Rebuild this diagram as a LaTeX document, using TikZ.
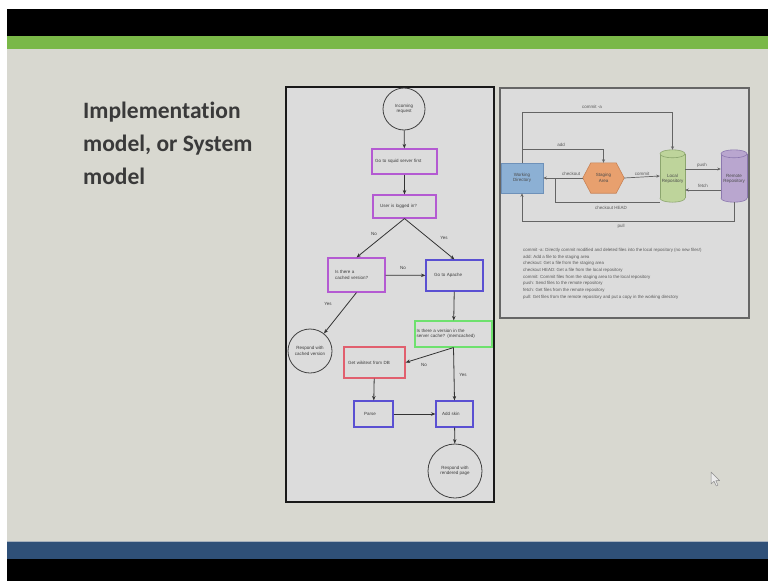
\documentclass[tikz,border=0pt]{standalone}
\usepackage{fontspec}
\setmainfont{Liberation Sans}
\newfontfamily\titlefont[Ligatures=NoCommon]{Carlito}
\usetikzlibrary{arrows.meta,calc}

\definecolor{slidebg}{RGB}{216,216,208}
\definecolor{topgreen}{RGB}{122,184,72}
\definecolor{botblue}{RGB}{47,80,120}
\definecolor{panelfill}{RGB}{220,220,220}
\definecolor{titlegray}{RGB}{58,58,58}
\definecolor{txt}{RGB}{60,60,60}
\definecolor{cmagenta}{RGB}{180,90,210}
\definecolor{cblue}{RGB}{90,80,210}
\definecolor{cgreen}{RGB}{110,225,110}
\definecolor{cred}{RGB}{225,95,110}
\definecolor{wdfill}{RGB}{140,176,212}
\definecolor{wdline}{RGB}{110,145,185}
\definecolor{safill}{RGB}{232,160,110}
\definecolor{saline}{RGB}{200,130,85}
\definecolor{lrfill}{RGB}{190,212,155}
\definecolor{lrline}{RGB}{140,165,110}
\definecolor{rrfill}{RGB}{185,166,207}
\definecolor{rrline}{RGB}{140,120,175}
\definecolor{gline}{RGB}{100,100,100}

\tikzset{
  tiny/.style={font=\fontsize{4.5}{5.4}\selectfont, text=txt},
  fbox/.style={tiny, draw, line width=1.1pt, align=left, inner ysep=0pt},
  fcirc/.style={tiny, draw=black!75, line width=0.8pt, circle, align=center, inner sep=0pt},
  farrow/.style={draw=black!80, line width=0.8pt, -{Stealth[length=4.5pt,width=3.5pt]}},
  flabel/.style={tiny, inner sep=0pt},
  gtext/.style={tiny, align=center, inner sep=0pt, text=black!70},
  garrow/.style={draw=gline, line width=0.7pt, -{Stealth[length=3.5pt,width=3pt]}},
  gline/.style={draw=gline, line width=0.7pt},
  glabel/.style={tiny, inner sep=0pt, text=black!65},
  titleline/.style={anchor=base west, inner sep=0pt, text=titlegray,
    font=\titlefont\bfseries\fontsize{23.5}{30}\selectfont},
}

\begin{document}
\begin{tikzpicture}[x=1pt,y=-1pt]
\useasboundingbox (0,0) rectangle (768,581);

% slide frame and bars
\fill[white] (0,0) rectangle (768,581);
\fill[black] (7,9) rectangle (768,36);
\fill[topgreen] (7,36) rectangle (768,49);
\fill[slidebg] (7,49) rectangle (768,541);
\fill[black!25!botblue!40!white] (7,540.5) rectangle (768,541.5);
\fill[botblue] (7,541.5) rectangle (768,559);
\fill[black] (7,559) rectangle (768,581);

% title
\node[titleline] (title1) at (83,118) {Implementation};
\node[titleline] (title2) at (83,151) {model, or System};
\node[titleline] (title3) at (83,184) {model};

% ---------------- request flowchart ----------------
\draw[line width=2pt, draw=black!90, fill=panelfill] (286,87) rectangle (494,502);

\node[fcirc, minimum size=42pt] (inc) at (404,109) {Incoming\\request};
\node[fbox, draw=cmagenta, inner xsep=3pt, text width=59pt, minimum height=25pt] (squid) at (404.5,161.5) {Go to squid server first};
\node[fbox, draw=cmagenta, inner xsep=7pt, text width=49pt, minimum height=23pt] (logged) at (404.5,206.5) {User is logged in?};
\node[fbox, draw=cmagenta, inner xsep=7pt, text width=43pt, minimum height=34pt] (cached) at (356.5,275) {Is there a\\cached version?};
\node[fbox, draw=cblue, inner xsep=8pt, text width=41pt, minimum height=31pt] (apache) at (454.5,275.5) {Go to Apache};
\node[fcirc, minimum size=44pt] (respc) at (310,351) {Respond with\\cached version};
\node[fbox, draw=cgreen, inner xsep=1.5pt, text width=74pt, minimum height=26pt] (memc) at (453.5,334) {Is there a version in the\\server cache? (memcached)};
\node[fbox, draw=cred, inner xsep=4pt, text width=53pt, minimum height=31pt] (wiki) at (374.5,362.5) {Get wikitext from DB};
\node[fbox, draw=cblue, inner xsep=10pt, text width=19pt, minimum height=26pt] (parse) at (373.5,414) {Parse};
\node[fbox, draw=cblue, inner xsep=6pt, text width=25pt, minimum height=26pt] (skin) at (454.5,414) {Add skin};
\node[fcirc, minimum size=54pt] (respr) at (455,471) {Respond with\\rendered page};

\draw[farrow] (inc) -- (squid);
\draw[farrow] (squid) -- (logged);
\draw[farrow] (logged.south) -- (cached.north);
\draw[farrow] (logged.south) -- (apache.north);
\draw[farrow] (cached) -- (apache);
\draw[farrow] (cached.south) -- (respc);
\draw[farrow] (apache) -- (memc);
\draw[farrow] (memc.south) -- (wiki.east);
\draw[farrow] (memc.south) -- (skin.north);
\draw[farrow] (wiki) -- (parse);
\draw[farrow] (parse) -- (skin);
\draw[farrow] (skin) -- (respr);

\node[flabel] (lno1) at (374,234) {No};
\node[flabel] (lyes1) at (444,238) {Yes};
\node[flabel] (lno2) at (403,268) {No};
\node[flabel] (lyes2) at (328,304) {Yes};
\node[flabel] (lno3) at (424,365) {No};
\node[flabel] (lyes3) at (463,375) {Yes};

% ---------------- git workflow ----------------
\draw[line width=1.4pt, draw=black!60, fill=panelfill] (500,88) rectangle (749,318);

% working directory
\node[draw=wdline, fill=wdfill, line width=0.6pt, minimum width=42pt, minimum height=30pt, inner sep=0pt] (wd) at (522,178) {};
\node[gtext] (wdt) at (wd) {Working\\Directory};

% staging area (hexagon)
\path node[minimum width=41pt, minimum height=30pt, inner sep=0pt] (sa) at (603.5,178) {};
\filldraw[fill=safill, draw=saline, line width=0.6pt]
  (sa.west) -- ($(sa.north west)+(8,0)$) -- ($(sa.north east)+(-8,0)$) -- (sa.east)
  -- ($(sa.south east)+(-8,0)$) -- ($(sa.south west)+(8,0)$) -- cycle;
\node[gtext] (sat) at (sa) {Staging\\Area};

% local repository (cylinder)
\path node[minimum width=25pt, minimum height=52pt, inner sep=0pt] (lr) at (672.5,176) {};
\filldraw[fill=lrfill, draw=lrline, line width=0.6pt] ($(lr.south)+(0,-4)$) ellipse (12.5pt and 4pt);
\fill[lrfill] ($(lr.north west)+(0,4)$) rectangle ($(lr.south east)+(0,-4)$);
\draw[lrline, line width=0.6pt] ($(lr.north west)+(0,4)$) -- ($(lr.south west)+(0,-4)$)
  ($(lr.north east)+(0,4)$) -- ($(lr.south east)+(0,-4)$);
\filldraw[fill=lrfill, draw=lrline, line width=0.6pt] ($(lr.north)+(0,4)$) ellipse (12.5pt and 4pt);
\node[gtext] (lrt) at ($(lr)+(0,3)$) {Local\\Repository};

% remote repository (cylinder)
\path node[minimum width=26pt, minimum height=52pt, inner sep=0pt] (rr) at (734,176) {};
\filldraw[fill=rrfill, draw=rrline, line width=0.6pt] ($(rr.south)+(0,-4)$) ellipse (13pt and 4pt);
\fill[rrfill] ($(rr.north west)+(0,4)$) rectangle ($(rr.south east)+(0,-4)$);
\draw[rrline, line width=0.6pt] ($(rr.north west)+(0,4)$) -- ($(rr.south west)+(0,-4)$)
  ($(rr.north east)+(0,4)$) -- ($(rr.south east)+(0,-4)$);
\filldraw[fill=rrfill, draw=rrline, line width=0.6pt] ($(rr.north)+(0,4)$) ellipse (13pt and 4pt);
\node[gtext] (rrt) at ($(rr)+(0,3)$) {Remote\\Repository};

% connectors
\coordinate (cajoin) at ($(wd.east)!0.3!(sa.west)$);
\draw[garrow] (wd.north) -- ++(0,-50) -| (lr.north);
\draw[garrow] ($(wd.north)+(0,-13)$) -| (sa.north);
\draw[garrow] (sa.west) -- (wd.east);
\draw[garrow] (sa.east) -- (lr.west);
\draw[gline] (lr.south west) -| (cajoin);
\draw[garrow] ($(lr.east)+(0,-7)$) -- ($(rr.west)+(0,-7)$);
\draw[garrow] ($(rr.west)+(0,14)$) -- ($(lr.east)+(0,14)$);
\draw[garrow] (rr.south) |- ($(wd.south)+(0,28)$) -- (wd.south);

\node[glabel] (lcma) at (592,107) {commit -a};
\node[glabel] (ladd) at (561,145) {add};
\node[glabel] (lco) at (571,174) {checkout};
\node[glabel] (lcm) at (642,174) {commit};
\node[glabel] (lcoh) at (611,208) {checkout HEAD};
\node[glabel] (lpush) at (702,165) {push};
\node[glabel] (lfetch) at (703,186) {fetch};
\node[glabel] (lpull) at (621,226) {pull};

\node[tiny, anchor=north west, align=left, inner sep=0pt, text=black!65,
      font=\fontsize{4.4}{6.7}\selectfont] (legend) at (523,248) {%
commit -a: Directly commit modified and deleted files into the local repository (no new files!)\\
add: Add a file to the staging area\\
checkout: Get a file from the staging area\\
checkout HEAD: Get a file from the local repository\\
commit: Commit files from the staging area to the local repository\\
push: Send files to the remote repository\\
fetch: Get files from the remote repository\\
pull: Get files from the remote repository and put a copy in the working directory};

% pointer
\filldraw[fill=black!8, draw=black!45, line width=0.5pt, line join=round]
  (711,472) -- (711,484) -- (714,481.2) -- (716.3,486) -- (718,485.2) -- (715.8,480.6) -- (719.6,480.6) -- cycle;
\end{tikzpicture}
\end{document}
